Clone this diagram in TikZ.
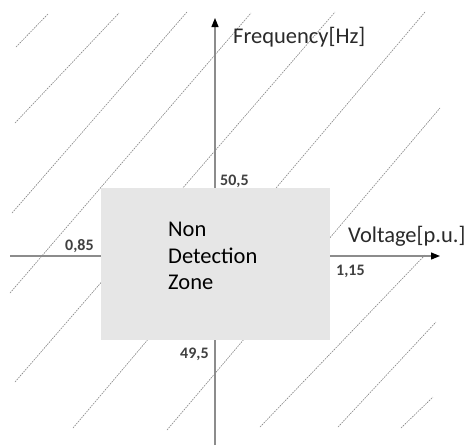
\documentclass[tikz,border=0pt]{standalone}
\usepackage{fontspec}
\setmainfont{Carlito}
\usetikzlibrary{arrows.meta}
\definecolor{axisgray}{HTML}{8C8C8C}
\definecolor{hatchgray}{HTML}{858585}
\definecolor{zonefill}{HTML}{E6E6E6}
\definecolor{ticktext}{HTML}{404040}
\definecolor{labeltext}{HTML}{2A2A2A}
\begin{document}
\begin{tikzpicture}[x=1pt,y=-1pt,
  hatch/.style={draw=hatchgray,line width=0.6pt,dash pattern=on 1.6pt off 1pt},
  axis/.style={draw=axisgray,line width=1.2pt,-{Triangle[length=9pt,width=7pt,black]}},
  zone/.style={fill=zonefill,draw=none,minimum width=229pt,minimum height=152pt,inner sep=0pt},
  ticklabel/.style={font=\fontsize{16}{19}\selectfont\bfseries,text=ticktext,inner sep=0pt,anchor=base west},
  axislabel/.style={font=\fontsize{22.5}{27}\selectfont,text=labeltext,inner sep=0pt,anchor=base west},
  zonetext/.style={font=\fontsize{22.5}{26.7}\selectfont,text=black,align=left,inner sep=0pt,anchor=west}]
\useasboundingbox[fill=white] (0,0) rectangle (473,445);

% diagonal dashed hatching of the detection region
\foreach \xa/\ya/\xb/\yb in {16/47/48/14, 15/123/119/13, 12/213/187/12,
    10/293/251/13, 15/382/335/12, 73/428/425/12, 167/430/440/108,
    260/427/425/255, 338/427/436/322, 401/428/433/397}
  \draw[hatch] (\xa,\ya) -- (\xb,\yb);

% axes
\coordinate (vbot) at (215,445);
\coordinate (vtop) at (215,18);
\coordinate (hleft) at (10,256);
\coordinate (hright) at (440,256);
\draw[axis] (vbot) -- (vtop);
\draw[axis] (hleft) -- (hright);

% non detection zone
\node[zone] (ndz) at (215.5,264) {};
\node[zonetext] (ndztext) at (168,256) {Non\\Detection\\Zone};

% axis titles
\node[axislabel] (freq) at (233,43) {Frequency[Hz]};
\node[axislabel] (volt) at (348,242) {Voltage[p.u.]};

% limits
\node[ticklabel] (fmax) at (220,185) {50,5};
\node[ticklabel] (fmin) at (180,358) {49,5};
\node[ticklabel] (vmin) at (65,250) {0,85};
\node[ticklabel] (vmax) at (336,275) {1,15};
\end{tikzpicture}
\end{document}
